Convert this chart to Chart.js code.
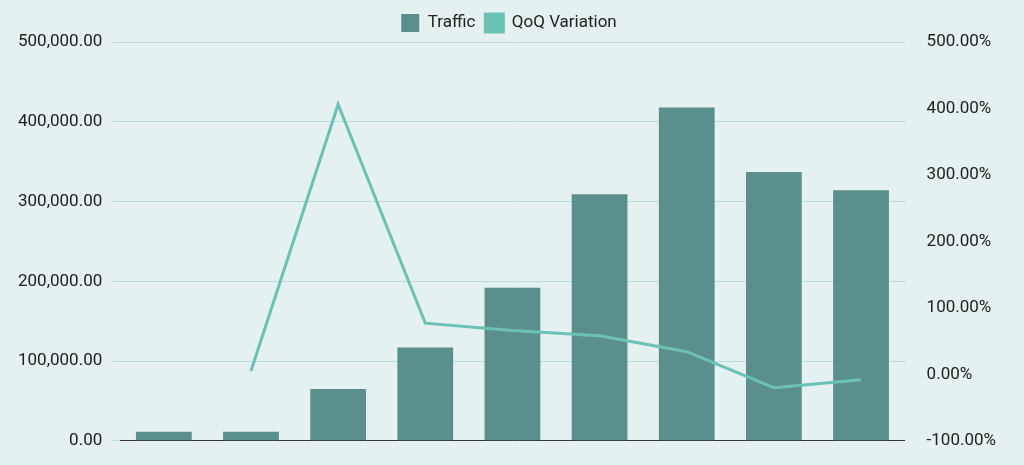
<!DOCTYPE html>
<html><head><script src="https://cdn.jsdelivr.net/npm/chart.js"></script>
<style>html,body{margin:0;background:#e4f1f0;}#w{width:1024px;height:465px;}</style></head>
<body><div id="w"><canvas id="c"></canvas></div>
<script>
const categories=["Q1","Q2","Q3","Q4","Q5","Q6","Q7","Q8","Q9"];
const traffic=[11500,11500,65000,117000,192000,309000,418000,337000,314000];
const qoq=[null,5,406,77,66,58,34,-20,-8];
Chart.defaults.font.family="Roboto, 'Liberation Sans', sans-serif";
Chart.defaults.color="#222";
new Chart(document.getElementById('c'),{
data:{labels:categories,datasets:[
{type:'line',label:'QoQ Variation',data:qoq,yAxisID:'y1',borderColor:'#6cc1b5',backgroundColor:'#6cc1b5',borderWidth:3,pointRadius:0,tension:0},
{type:'bar',label:'Traffic',data:traffic,yAxisID:'y',backgroundColor:'#5b8f8b',categoryPercentage:1,barPercentage:0.64}
]},
options:{responsive:true,maintainAspectRatio:false,animation:false,
layout:{padding:{left:8,right:14,top:4,bottom:8}},
plugins:{legend:{reverse:true,labels:{font:{size:17},boxWidth:18,boxHeight:18,padding:10}},tooltip:{enabled:false}},
scales:{
x:{grid:{display:false},ticks:{display:false},border:{color:'#333'}},
y:{position:'left',min:0,max:500000,ticks:{stepSize:100000,font:{size:17},padding:10,callback:v=>v.toLocaleString('en-US',{minimumFractionDigits:2})},grid:{color:'#b9dcd8'},border:{display:false}},
y1:{position:'right',min:-100,max:500,ticks:{stepSize:100,font:{size:17},padding:14,callback:v=>v.toFixed(2)+'%'},grid:{display:false},border:{display:false}}
}}},
);
</script></body></html>
